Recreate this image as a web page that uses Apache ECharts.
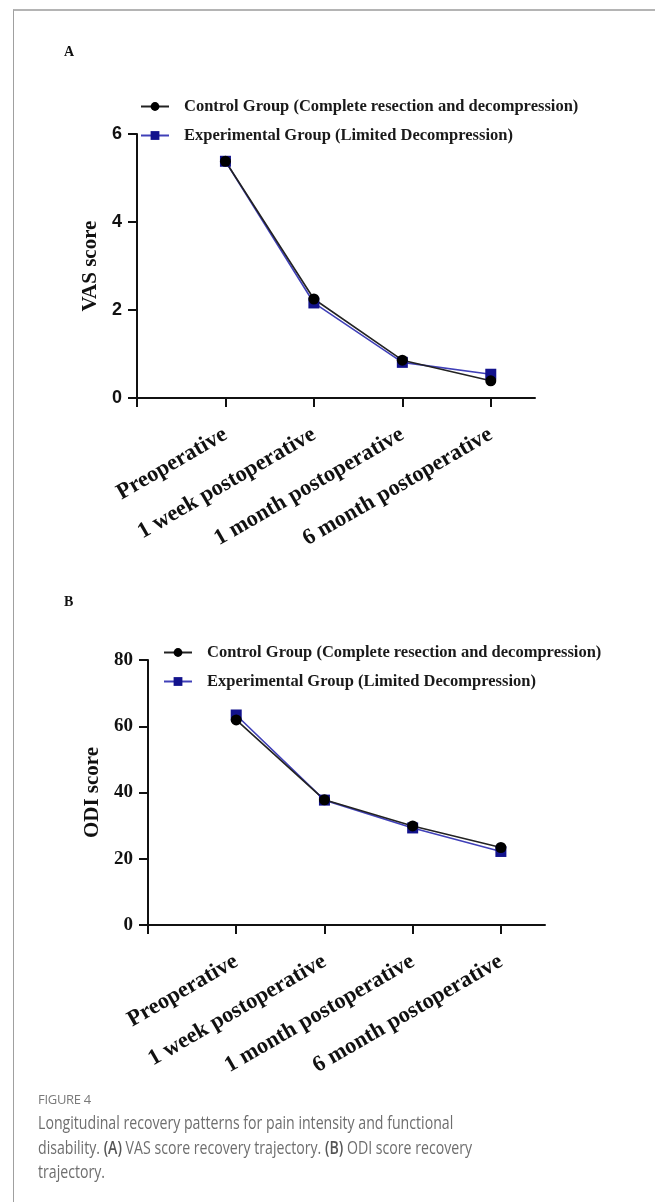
<!DOCTYPE html>
<html>
<head>
<meta charset="utf-8">
<script src="https://cdn.jsdelivr.net/npm/echarts@6/dist/echarts.min.js"></script>
<style>
  html, body { margin: 0; padding: 0; background: #fff; }
  .page { position: relative; width: 655px; height: 1202px; overflow: hidden; }
  .frame { position: absolute; left: 13px; top: 9px; right: -2px; bottom: -2px; border-left: 1px solid #a0a0a0; border-top: 2px solid #b4b4b4; }
  #chart { position: absolute; left: 0; top: 0; width: 655px; height: 1202px; }
  .fig-label { position: absolute; left: 38px; top: 1090px; font: 400 13px "Open Sans", sans-serif; color: #7a7a7a; letter-spacing: -0.3px; }
  .caption { position: absolute; left: 38px; top: 1110px; font: 400 18px/24.5px "Open Sans", sans-serif; color: #6e6e6e; white-space: nowrap; transform: scaleX(0.785); transform-origin: 0 0; }
  .caption b { color: #555; font-weight: 600; }
</style>
</head>
<body>
<div class="page">
  <div class="frame"></div>
  <div id="chart"></div>
  <div class="fig-label">FIGURE 4</div>
  <div class="caption">Longitudinal recovery patterns for pain intensity and functional<br>disability. <b>(A)</b> VAS score recovery trajectory. <b>(B)</b> ODI score recovery<br>trajectory.</div>
</div>
<script>
// time points (x categories)
const timePoints = ['Preoperative', '1 week postoperative', '1 month postoperative', '6 month postoperative']
const groupNames = ['Control Group (Complete resection and decompression)', 'Experimental Group (Limited Decompression)']

// panel A - VAS score
const vasControl = [5.38, 2.25, 0.86, 0.39]
const vasExperimental = [5.38, 2.16, 0.81, 0.54]
const vasTicks = [0, 2, 4, 6]

// panel B - ODI score
const odiControl = [61.9, 37.8, 29.9, 23.4]
const odiExperimental = [63.4, 37.7, 29.3, 22.2]
const odiTicks = [0, 20, 40, 60, 80]

const serif = '"Liberation Serif", "Times New Roman", serif'
const sans = '"Liberation Sans", Arial, sans-serif'
const navy = '#12128c'
const blueLine = '#4040b8'

// categories sit at 1..4 on a 0..4.5 axis, like the original prism plot
function toPoints(values) {
  return values.map((v, i) => [i + 1, v])
}

function xAxisFor(gridIndex) {
  return {
    gridIndex: gridIndex,
    type: 'value',
    min: 0,
    max: 4.5,
    interval: 1,
    splitLine: { show: false },
    axisLine: { show: true, lineStyle: { color: '#111', width: 2 } },
    axisTick: { show: true, length: 9, lineStyle: { color: '#111', width: 2 }, customValues: [0, 1, 2, 3, 4] },
    axisLabel: {
      customValues: [1, 2, 3, 4],
      formatter: (v) => timePoints[Math.round(v) - 1] || '',
      rotate: 30,
      margin: 35,
      color: '#111',
      fontFamily: serif,
      fontWeight: 'bold',
      fontSize: 22.5
    }
  }
}

function yAxisFor(gridIndex, name, nameGap, ticks, labelFont, labelSize) {
  return {
    gridIndex: gridIndex,
    type: 'value',
    min: ticks[0],
    max: ticks[ticks.length - 1],
    interval: ticks[1] - ticks[0],
    name: name,
    nameLocation: 'middle',
    nameGap: nameGap,
    nameTextStyle: { color: '#111', fontFamily: serif, fontWeight: 'bold', fontSize: 21 },
    splitLine: { show: false },
    axisLine: { show: true, lineStyle: { color: '#111', width: 2 } },
    axisTick: { show: true, length: 9, lineStyle: { color: '#111', width: 2 } },
    axisLabel: { margin: 15, color: '#111', fontFamily: labelFont, fontWeight: 'bold', fontSize: labelSize }
  }
}

function legendFor(left, top) {
  return {
    orient: 'vertical',
    left: left,
    top: top,
    padding: 0,
    itemWidth: 28,
    itemHeight: 11,
    itemGap: 12,
    selectedMode: false,
    data: groupNames,
    textStyle: { color: '#1a1a1a', fontFamily: serif, fontWeight: 'bold', fontSize: 16.5, lineHeight: 16, padding: [0, 0, 0, 10] }
  }
}

function seriesFor(gridIndex, control, experimental) {
  return [
    {
      name: groupNames[1],
      type: 'line',
      xAxisIndex: gridIndex,
      yAxisIndex: gridIndex,
      data: toPoints(experimental),
      symbol: 'rect',
      symbolSize: 11,
      itemStyle: { color: navy },
      lineStyle: { color: blueLine, width: 1.6 }
    },
    {
      name: groupNames[0],
      type: 'line',
      xAxisIndex: gridIndex,
      yAxisIndex: gridIndex,
      data: toPoints(control),
      symbol: 'circle',
      symbolSize: 11,
      itemStyle: { color: '#000' },
      lineStyle: { color: '#222', width: 1.6 }
    }
  ]
}

const myChart = echarts.init(document.getElementById('chart'))
myChart.setOption({
  animation: false,
  grid: [
    { left: 137, top: 134, width: 398, height: 264 },
    { left: 148, top: 660, width: 397, height: 265 }
  ],
  legend: [legendFor(140, 98), legendFor(163, 644)],
  graphic: [
    { type: 'text', left: 64, top: 45, style: { text: 'A', font: 'bold 14px ' + serif, fill: '#111' } },
    { type: 'text', left: 64, top: 595, style: { text: 'B', font: 'bold 14px ' + serif, fill: '#111' } }
  ],
  xAxis: [xAxisFor(0), xAxisFor(1)],
  yAxis: [
    yAxisFor(0, 'VAS score', 33, vasTicks, sans, 18),
    yAxisFor(1, 'ODI score', 44, odiTicks, serif, 19)
  ],
  series: [].concat(seriesFor(0, vasControl, vasExperimental), seriesFor(1, odiControl, odiExperimental))
})
</script>
</body>
</html>
